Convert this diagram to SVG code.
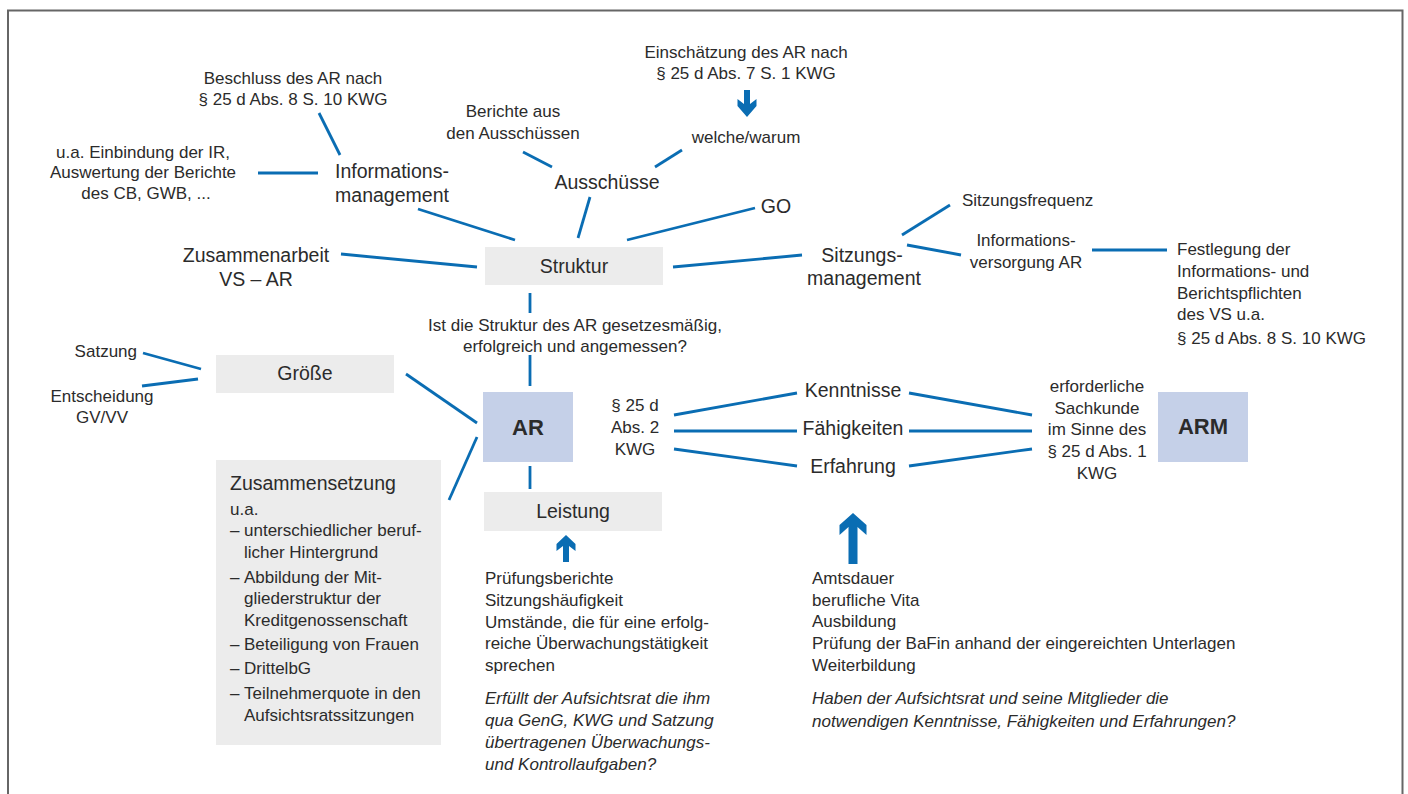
<svg xmlns="http://www.w3.org/2000/svg" width="1408" height="794" viewBox="0 0 1408 794">
<style>
text{font-family:"Liberation Sans",Arial,sans-serif;fill:#2b2b2b;font-size:17px}
.b{font-size:19.5px}
.m{text-anchor:middle}
.i{font-style:italic}
.h{font-size:22px;font-weight:bold;text-anchor:middle}
.box{fill:#ececec}
.ar{fill:#c5d0e8}
.c line{stroke:#0a6db3;stroke-width:2.8;stroke-linecap:butt}
.arr{fill:#0a6db3}
</style>
<rect width="1408" height="794" fill="#fff"/>
<path d="M8,800 V10.5 H1402.5 V800" fill="none" stroke="#666" stroke-width="2"/>

<g class="c" id="connectors">
<line x1="319" y1="113" x2="340" y2="155"/>
<line x1="258" y1="173" x2="318" y2="173"/>
<line x1="418" y1="209" x2="515" y2="240"/>
<line x1="341" y1="254" x2="477" y2="267"/>
<line x1="523" y1="152" x2="552" y2="167"/>
<line x1="682" y1="150" x2="655" y2="167"/>
<line x1="590" y1="197" x2="578" y2="238"/>
<line x1="755" y1="208" x2="627" y2="240"/>
<line x1="673" y1="267" x2="802" y2="255"/>
<line x1="902" y1="235" x2="950" y2="205"/>
<line x1="907" y1="245" x2="961" y2="255"/>
<line x1="1092" y1="250" x2="1167" y2="250"/>
<line x1="530" y1="293" x2="530" y2="313"/>
<line x1="530" y1="355" x2="530" y2="386"/>
<line x1="143" y1="353" x2="201" y2="369"/>
<line x1="142" y1="386" x2="198" y2="379"/>
<line x1="406" y1="374" x2="477" y2="423"/>
<line x1="449" y1="500" x2="477" y2="437"/>
<line x1="530" y1="466" x2="530" y2="489"/>
<line x1="674" y1="415" x2="797" y2="393"/>
<line x1="674" y1="431" x2="797" y2="431"/>
<line x1="674" y1="449" x2="797" y2="466"/>
<line x1="909" y1="393" x2="1032" y2="415"/>
<line x1="909" y1="431" x2="1032" y2="431"/>
<line x1="909" y1="466" x2="1032" y2="449"/>
<path class="arr" d="M744,90 L750,90 L750,104 L756.5,99 L756.5,106 L747,117 L737.5,106 L737.5,99 L744,104 Z"/>
<path class="arr" d="M566,535 L575.5,544 L575.5,551 L569,546 L569,562 L563,562 L563,546 L556.5,551 L556.5,544 Z"/>
<path class="arr" d="M853,513 L866.5,525 L866.5,535 L857.5,527 L857.5,564 L848.5,564 L848.5,527 L839.5,535 L839.5,525 Z"/>
</g>

<g id="beschluss"><text class="m" x="293" y="84">Beschluss des AR nach</text><text class="m" x="293" y="105">§ 25 d Abs. 8 S. 10 KWG</text></g>
<g id="einbindung"><text class="m" x="143" y="158">u.a. Einbindung der IR,</text><text class="m" x="143" y="178">Auswertung der Berichte</text><text class="m" x="146" y="199">des CB, GWB,  ...</text></g>
<g id="informationsmanagement"><text class="b m" x="392" y="178">Informations-</text><text class="b m" x="392" y="202">management</text></g>
<g id="zusammenarbeit"><text class="b m" x="256" y="262">Zusammenarbeit</text><text class="b m" x="256" y="286">VS – AR</text></g>
<g id="berichte"><text class="m" x="513" y="117">Berichte aus</text><text class="m" x="513" y="139">den Ausschüssen</text></g>
<g id="einschaetzung"><text class="m" x="746" y="58">Einschätzung des AR nach</text><text class="m" x="746" y="79">§ 25 d Abs. 7 S. 1 KWG</text></g>
<g id="welche"><text class="m" x="746" y="143">welche/warum</text></g>
<g id="ausschuesse"><text class="b m" x="607" y="189">Ausschüsse</text></g>
<g id="go"><text class="b m" x="776" y="213">GO</text></g>
<g id="struktur"><rect class="box" x="485" y="247" width="178" height="38"/><text class="b m" x="574" y="273">Struktur</text></g>
<g id="sitzungsmanagement"><text class="b m" x="862" y="262">Sitzungs-</text><text class="b m" x="864" y="285">management</text></g>
<g id="sitzungsfrequenz"><text x="962" y="206">Sitzungsfrequenz</text></g>
<g id="informationsversorgung"><text class="m" x="1026" y="246">Informations-</text><text class="m" x="1026" y="268">versorgung AR</text></g>
<g id="festlegung"><text x="1177" y="255">Festlegung der</text><text x="1177" y="277">Informations- und</text><text x="1177" y="299">Berichtspflichten</text><text x="1177" y="320">des VS u.a.</text><text x="1177" y="344">§ 25 d Abs. 8 S. 10 KWG</text></g>
<g id="frage-struktur"><text class="m" x="575" y="331">Ist die Struktur des AR gesetzesmäßig,</text><text class="m" x="575" y="352">erfolgreich und angemessen?</text></g>
<g id="satzung"><text x="137" y="357" text-anchor="end">Satzung</text></g>
<g id="entscheidung"><text class="m" x="102" y="402">Entscheidung</text><text class="m" x="102" y="423">GV/VV</text></g>
<g id="groesse"><rect class="box" x="216" y="355" width="178" height="38"/><text class="b m" x="305" y="380">Größe</text></g>
<g id="ar"><rect class="ar" x="483" y="392" width="90" height="70"/><text class="h" x="528" y="435">AR</text></g>
<g id="zusammensetzung"><rect class="box" x="216" y="460" width="225" height="285"/>
<text class="b" x="230" y="490">Zusammensetzung</text>
<text x="230" y="515">u.a.</text>
<text x="230" y="536">–</text><text x="244" y="536">unterschiedlicher beruf-</text>
<text x="244" y="558">licher Hintergrund</text>
<text x="230" y="583">–</text><text x="244" y="583">Abbildung der Mit-</text>
<text x="244" y="604">gliederstruktur der</text>
<text x="244" y="626">Kreditgenossenschaft</text>
<text x="230" y="650">–</text><text x="244" y="650">Beteiligung von Frauen</text>
<text x="230" y="674">–</text><text x="244" y="674">DrittelbG</text>
<text x="230" y="699">–</text><text x="244" y="699">Teilnehmerquote in den</text>
<text x="244" y="721">Aufsichtsratssitzungen</text></g>
<g id="leistung"><rect class="box" x="484" y="492" width="178" height="39"/><text class="b m" x="573" y="518">Leistung</text></g>
<g id="leistung-text"><text x="485" y="584">Prüfungsberichte</text><text x="485" y="606">Sitzungshäufigkeit</text><text x="485" y="628">Umstände, die für eine  erfolg-</text><text x="485" y="649">reiche Überwachungstätigkeit</text><text x="485" y="671">sprechen</text>
<text class="i" x="485" y="704">Erfüllt der Aufsichtsrat die ihm</text><text class="i" x="485" y="726">qua GenG, KWG und Satzung</text><text class="i" x="485" y="748">übertragenen Überwachungs-</text><text class="i" x="485" y="770">und Kontrollaufgaben?</text></g>
<g id="paragraph25d2"><text class="m" x="635" y="411">§ 25 d</text><text class="m" x="635" y="433">Abs. 2</text><text class="m" x="635" y="455">KWG</text></g>
<g id="kenntnisse"><text class="b m" x="853" y="397">Kenntnisse</text></g>
<g id="faehigkeiten"><text class="b m" x="853" y="435">Fähigkeiten</text></g>
<g id="erfahrung"><text class="b m" x="853" y="473">Erfahrung</text></g>
<g id="sachkunde"><text class="m" x="1097" y="392">erforderliche</text><text class="m" x="1097" y="414">Sachkunde</text><text class="m" x="1097" y="435">im Sinne des</text><text class="m" x="1097" y="457">§ 25 d Abs. 1</text><text class="m" x="1097" y="479">KWG</text></g>
<g id="arm"><rect class="ar" x="1158" y="392" width="90" height="70"/><text class="h" x="1203" y="434">ARM</text></g>
<g id="arm-text"><text x="812" y="584">Amtsdauer</text><text x="812" y="606">berufliche Vita</text><text x="812" y="627">Ausbildung</text><text x="812" y="649">Prüfung der BaFin anhand der eingereichten Unterlagen</text><text x="812" y="671">Weiterbildung</text>
<text class="i" x="812" y="704">Haben der Aufsichtsrat und seine Mitglieder die</text><text class="i" x="812" y="727">notwendigen Kenntnisse, Fähigkeiten und Erfahrungen?</text></g>
</svg>
